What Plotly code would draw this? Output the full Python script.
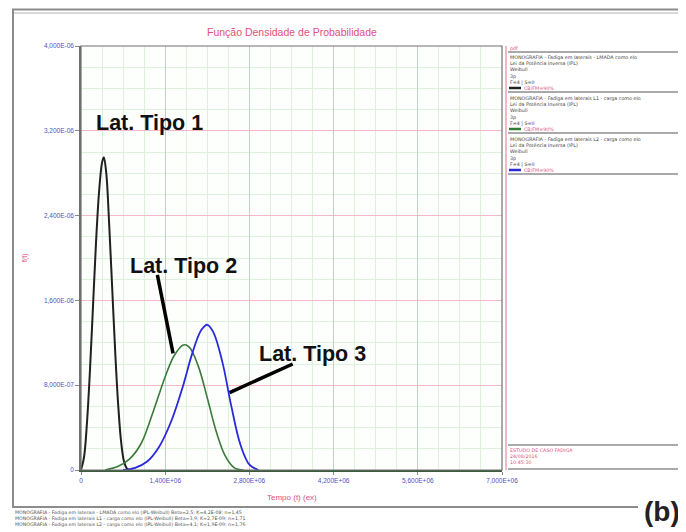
import plotly.graph_objects as go

# ---------------- data ----------------
# x in units of 1e6, y in units of 1e-6
tipo1_x = [0, 0.05, 0.10, 0.15, 0.20, 0.25, 0.30, 0.35, 0.38, 0.42, 0.47, 0.52, 0.57, 0.62, 0.67, 0.72, 0.77, 0.85]
tipo1_y = [0, 0.12, 0.45, 0.95, 1.55, 2.15, 2.62, 2.90, 2.95, 2.80, 2.30, 1.70, 1.10, 0.60, 0.25, 0.07, 0.01, 0]

tipo2_x = [0.40, 0.60, 0.80, 1.00, 1.20, 1.40, 1.55, 1.70, 1.80, 1.95, 2.10, 2.25, 2.40, 2.55, 2.70]
tipo2_y = [0, 0.03, 0.10, 0.25, 0.55, 0.88, 1.08, 1.18, 1.16, 0.98, 0.68, 0.36, 0.13, 0.02, 0]

tipo3_x = [0.70, 0.90, 1.10, 1.30, 1.50, 1.70, 1.85, 2.00, 2.10, 2.20, 2.35, 2.50, 2.65, 2.80, 2.95]
tipo3_y = [0, 0.02, 0.08, 0.22, 0.46, 0.80, 1.10, 1.32, 1.37, 1.30, 1.02, 0.60, 0.24, 0.05, 0]

x_tickvals = [0, 1.4, 2.8, 4.2, 5.6, 7.0]
x_ticktext = ["0", "1,400E+06", "2,800E+06", "4,200E+06", "5,600E+06", "7,000E+06"]
y_tickvals = [0, 0.8, 1.6, 2.4, 3.2, 4.0]
y_ticktext = ["0", "8,000E-07", "1,600E-06", "2,400E-06", "3,200E-06", "4,000E-06"]

labels = ["Lat. Tipo 1", "Lat. Tipo 2", "Lat. Tipo 3"]
title_text = "Função Densidade de Probabilidade"
xaxis_title = "Tempo (t) (ex)"
yaxis_title = "f(t)"

legend_blocks = [
    ["MONOGRAFIA - Fadiga em laterais - LMADA como elo",
     "Lei da Potência Inversa (IPL)", "Weibull", "3p", "F=4 | S=0"],
    ["MONOGRAFIA - Fadiga em laterais L1 - carga como elo",
     "Lei da Potência Inversa (IPL)", "Weibull", "3p", "F=4 | S=0"],
    ["MONOGRAFIA - Fadiga em laterais L2 - carga como elo",
     "Lei da Potência Inversa (IPL)", "Weibull", "3p", "F=4 | S=0"],
]
legend_colors = ["#202020", "#2f7a2f", "#2a2ad0"]
bottom_lines = [
    "MONOGRAFIA - Fadiga em laterais - LMADA como elo (IPL-Weibull) Beta=2,5; K=4,2E-08; n=1,45",
    "MONOGRAFIA - Fadiga em laterais L1 - carga como elo (IPL-Weibull) Beta=3,9; K=2,7E-09; n=1,71",
    "MONOGRAFIA - Fadiga em laterais L2 - carga como elo (IPL-Weibull) Beta=4,1; K=1,9E-09; n=1,76",
]
stamp_lines = ["ESTUDO DE CASO FADIGA", "24/08/2016", "10:45:30"]

# ---------------- layout helpers ----------------
# page is rendered with an 8px body margin, so the figure is shifted by 8px
OFF = 8
PAGE_W, PAGE_H = 686, 532
W, H = PAGE_W - OFF, PAGE_H - OFF
L, R, T, B = 81, 502, 46, 470   # plot area in page pixels


def px(x):
    return (x - L) / (R - L)


def py(y):
    return (B - y) / (B - T)


def ann(x, y, text, size, color="#444", xanchor="left", yanchor="middle", family="Liberation Sans, Arial", **kw):
    d = dict(x=px(x), y=py(y), xref="paper", yref="paper", text=text, showarrow=False,
             xanchor=xanchor, yanchor=yanchor, borderpad=0,
             font=dict(size=size, color=color, family=family))
    d.update(kw)
    return d


fig = go.Figure()
fig.add_trace(go.Scatter(x=tipo1_x, y=tipo1_y, mode="lines", line=dict(color="#202020", width=2),
                         name=labels[0], line_shape="spline"))
fig.add_trace(go.Scatter(x=tipo2_x, y=tipo2_y, mode="lines", line=dict(color="#3a7a3a", width=1.6),
                         name=labels[1], line_shape="spline"))
fig.add_trace(go.Scatter(x=tipo3_x, y=tipo3_y, mode="lines", line=dict(color="#2a2ad8", width=1.8),
                         name=labels[2], line_shape="spline"))

shapes = []
annotations = []

# leader lines for labels (data coordinates)
shapes.append(dict(type="line", xref="x", yref="y", x0=1.27, y0=1.84, x1=1.53, y1=1.10,
                   line=dict(color="black", width=3.5)))
shapes.append(dict(type="line", xref="x", yref="y", x0=3.52, y0=1.00, x1=2.47, y1=0.73,
                   line=dict(color="black", width=3.5)))

lab_font = dict(family="Liberation Sans, Arial", size=21.5, color="#111")
annotations.append(dict(x=0.22, y=3.27, xref="x", yref="y", text="<b>" + labels[0] + "</b>", showarrow=False,
                        xanchor="left", yanchor="middle", font=lab_font))
annotations.append(dict(x=0.78, y=1.92, xref="x", yref="y", text="<b>" + labels[1] + "</b>", showarrow=False,
                        xanchor="left", yanchor="middle", font=lab_font))
annotations.append(dict(x=2.93, y=1.09, xref="x", yref="y", text="<b>" + labels[2] + "</b>", showarrow=False,
                        xanchor="left", yanchor="middle", font=lab_font))

# title & axis titles
annotations.append(ann(291.5, 32, title_text, 10.5, "#e0507a", xanchor="center"))
annotations.append(ann(291.5, 497, xaxis_title, 8, "#e0507a", xanchor="center"))
annotations.append(ann(25, 258, yaxis_title, 7, "#e0507a", xanchor="center", textangle=-90))

# window frame
gray = "#8c8c8c"
shapes.append(dict(type="line", xref="paper", yref="paper", x0=px(12), x1=px(686), y0=py(9.5), y1=py(9.5),
                   line=dict(color=gray, width=2)))
shapes.append(dict(type="line", xref="paper", yref="paper", x0=px(12), x1=px(686), y0=py(13), y1=py(13),
                   line=dict(color="#b0b0b0", width=1)))
shapes.append(dict(type="line", xref="paper", yref="paper", x0=px(13), x1=px(13), y0=py(9), y1=py(506),
                   line=dict(color=gray, width=2)))
shapes.append(dict(type="line", xref="paper", yref="paper", x0=px(12), x1=px(638), y0=py(507), y1=py(507),
                   line=dict(color=gray, width=2)))
annotations.append(ann(14, 509, "<br>".join(bottom_lines), 4.7, "#555", yanchor="top", align="left",
                       family="DejaVu Sans"))
annotations.append(ann(662, 511, "<b>(b)</b>", 28, "#222", xanchor="center"))

# right panel
shapes.append(dict(type="line", xref="paper", yref="paper", x0=px(506), x1=px(506), y0=py(46), y1=py(470),
                   line=dict(color="#e07090", width=1)))
annotations.append(ann(509, 48.5, "pdf", 4.8, "#e0507a", family="DejaVu Sans"))
shapes.append(dict(type="line", xref="paper", yref="paper", x0=px(508), x1=px(686), y0=py(52), y1=py(52),
                   line=dict(color=gray, width=1.5)))
for bi, block in enumerate(legend_blocks):
    top = 54 + bi * 41
    annotations.append(ann(509, top, "<br>".join(block), 4.8, "#444", yanchor="top", align="left",
                           family="DejaVu Sans"))
    yl = top + 34
    shapes.append(dict(type="line", xref="paper", yref="paper", x0=px(509), x1=px(521), y0=py(yl), y1=py(yl),
                       line=dict(color=legend_colors[bi], width=2.5)))
    annotations.append(ann(523, yl, "CB/FM=90%", 4.8, "#e0507a", family="DejaVu Sans"))
    shapes.append(dict(type="line", xref="paper", yref="paper", x0=px(508), x1=px(686), y0=py(yl + 4),
                       y1=py(yl + 4), line=dict(color=gray, width=1.5)))

shapes.append(dict(type="line", xref="paper", yref="paper", x0=px(508), x1=px(686), y0=py(445), y1=py(445),
                   line=dict(color=gray, width=1.5)))
annotations.append(ann(509, 447, "<br>".join(stamp_lines), 4.8, "#e0507a", yanchor="top", align="left",
                       family="DejaVu Sans"))
shapes.append(dict(type="line", xref="paper", yref="paper", x0=px(508), x1=px(686), y0=py(469), y1=py(469),
                   line=dict(color=gray, width=1.5)))

# plot border
shapes.append(dict(type="rect", xref="paper", yref="paper", x0=0, x1=1, y0=0, y1=1,
                   line=dict(color="#707070", width=1.2)))

fig.update_layout(
    width=W, height=H,
    margin=dict(l=L - OFF, r=PAGE_W - R, t=T - OFF, b=PAGE_H - B, pad=0),
    paper_bgcolor="white", plot_bgcolor="#fdfffd",
    showlegend=False,
    shapes=shapes, annotations=annotations,
    xaxis=dict(range=[0, 7.0], tickvals=x_tickvals, ticktext=x_ticktext,
               tickfont=dict(size=6.5, color="#5050c8", family="Liberation Sans, Arial"),
               showgrid=True, gridcolor="#f2b8c6", gridwidth=1,
               minor=dict(dtick=0.35, showgrid=True, gridcolor="#dcf2dc", gridwidth=1),
               zeroline=False, showline=True, linecolor="#3d5a3d", linewidth=2,
               ticks="outside", ticklen=3, tickcolor="#888", automargin=False),
    yaxis=dict(range=[0, 4.0], tickvals=y_tickvals, ticktext=y_ticktext,
               tickfont=dict(size=6.5, color="#5050c8", family="Liberation Sans, Arial"),
               showgrid=True, gridcolor="#f2b8c6", gridwidth=1,
               minor=dict(dtick=0.2, showgrid=True, gridcolor="#dcf2dc", gridwidth=1),
               zeroline=False, showline=True, linecolor="#707070", linewidth=1.5,
               ticks="outside", ticklen=4, tickcolor="#888", automargin=False),
)

fig.write_html("out.html")
